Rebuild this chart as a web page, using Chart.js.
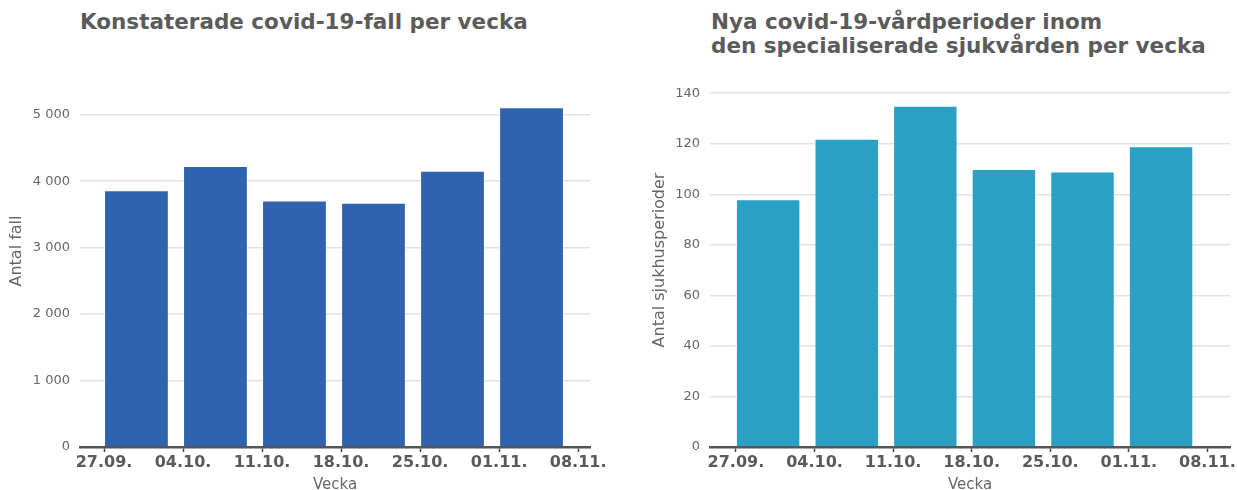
<!DOCTYPE html>
<html>
<head>
<meta charset="utf-8">
<script src="https://cdn.jsdelivr.net/npm/chart.js@4/dist/chart.umd.min.js"></script>
<style>
  body { margin: 0; background: #fff; overflow: hidden; }
  #wrap { position: relative; width: 1237px; height: 490px; overflow: hidden; }
  .title { position: absolute; font-family: "DejaVu Sans", sans-serif; font-weight: bold;
           font-size: 21.5px; line-height: 24px; color: #5b5b5b; white-space: nowrap; }
  .box { position: absolute; top: 0; height: 494px; }
</style>
</head>
<body>
<div id="wrap">
  <div class="title" style="left:80px; top:10px;">Konstaterade covid-19-fall per vecka</div>
  <div class="title" style="left:711px; top:10px;">Nya covid-19-vårdperioder inom<br>den specialiserade sjukvården per vecka</div>
  <div class="box" style="left:0; width:610px;"><canvas id="casesChart"></canvas></div>
  <div class="box" style="left:630px; width:607px;"><canvas id="hospChart"></canvas></div>
</div>
<script>
// week start dates (tick labels)
const weeks = ['27.09.', '04.10.', '11.10.', '18.10.', '25.10.', '01.11.', '08.11.']
// one value per week, between the ticks
const cases = [3865, 4231, 3710, 3675, 4156, 5115]
const hospPeriods = [98, 122, 135, 110, 109, 119]
// y tick labels
const casesTicks = [0, 1000, 2000, 3000, 4000, 5000]
const hospTicks = [0, 20, 40, 60, 80, 100, 120, 140]

const fmt = (v) => String(v).replace(/\B(?=(\d{3})+(?!\d))/g, ' ')

Chart.defaults.font.family = '"DejaVu Sans", sans-serif'
Chart.defaults.animation = false

window.makeChart = (id, values, color, yTitle, yTicks, yMax, xMin, xMax, padTop, padRight, yTitlePad) => {
    const data = values.map((v, i) => ({ x: i + 0.41, y: v }))
    return new Chart(document.getElementById(id), {
        type: 'bar',
        data: {
            datasets: [{
                data,
                backgroundColor: color,
                borderColor: 'rgba(255,255,255,0.45)',
                borderWidth: 1,
                barPercentage: 0.82,
                categoryPercentage: 1
            }]
        },
        options: {
            responsive: false,
            maintainAspectRatio: false,
            layout: { padding: { top: padTop, right: padRight, left: 0, bottom: 0 } },
            plugins: { legend: { display: false }, tooltip: { enabled: false } },
            scales: {
                x: {
                    type: 'linear',
                    offset: false,
                    min: xMin,
                    max: xMax,
                    afterBuildTicks: (s) => { s.ticks = weeks.map((w, i) => ({ value: i })) },
                    afterFit: (s) => { s.height = 47 },
                    ticks: {
                        callback: (v) => weeks[v],
                        color: '#5a5a5a',
                        font: { size: 16, weight: 'bold' },
                        padding: 1,
                        maxRotation: 0,
                        autoSkip: false
                    },
                    grid: { offset: false, drawOnChartArea: false, drawTicks: true, tickLength: 5, tickColor: '#444', tickWidth: 1.5 },
                    border: { display: true, color: '#555', width: 2.5 },
                    title: { display: true, text: 'Vecka', color: '#666', font: { size: 15 }, padding: { top: 0, bottom: 0 } }
                },
                y: {
                    min: 0,
                    max: yMax,
                    afterFit: (s) => { s.width = 80 },
                    afterBuildTicks: (s) => { s.ticks = yTicks.map((v) => ({ value: v })) },
                    ticks: { callback: (v) => fmt(v), color: '#666', font: { size: 13 }, padding: 10 },
                    grid: { color: '#e1e1e8', lineWidth: 1.5, drawTicks: false },
                    border: { display: false },
                    title: { display: true, text: yTitle, color: '#666', font: { size: 16 }, padding: { top: yTitlePad, bottom: 0 } }
                }
            }
        }
    })
}

function sizeCanvas(id, w, h) {
    const c = document.getElementById(id)
    c.width = w; c.height = h
    c.style.width = w + 'px'; c.style.height = h + 'px'
}
sizeCanvas('casesChart', 610, 494)
sizeCanvas('hospChart', 607, 494)

makeChart('casesChart', cases, '#3063ae', 'Antal fall', casesTicks, 5900, -0.304, 6.15, 55, 20, 7)
makeChart('hospChart', hospPeriods, '#2aa0c4', 'Antal sjukhusperioder', hospTicks, 148, -0.33, 6.29, 73, 5, 20)
</script>
</body>
</html>
